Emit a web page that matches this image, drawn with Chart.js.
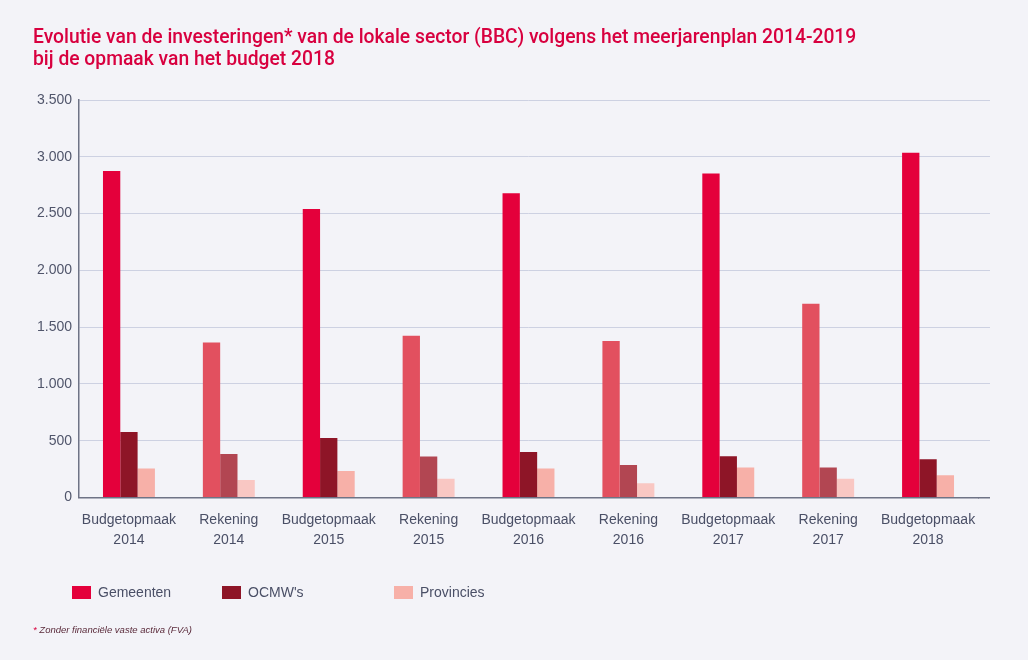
<!DOCTYPE html>
<html>
<head>
<meta charset="utf-8">
<script src="https://cdn.jsdelivr.net/npm/chart.js@4/dist/chart.umd.min.js"></script>
<style>
  html, body { margin:0; padding:0; background:#f3f3f8; }
  #wrap { position:relative; width:1028px; height:660px; overflow:hidden; }
  #c { position:absolute; left:0; top:0; }
  .leg { position:absolute; top:584px; font-family:"Liberation Sans", Arial, sans-serif; font-size:14px; color:#4a4f66; height:16px; line-height:16px; }
  .leg span.box { position:absolute; left:0; top:2px; width:19px; height:13px; }
  .leg span.txt { position:absolute; left:26px; top:0; white-space:nowrap; }
  #foot { position:absolute; left:33px; top:624px; font-family:"Liberation Sans", Arial, sans-serif; font-size:9.5px; font-style:italic; color:#5a2a3a; white-space:nowrap; }
  #foot b { color:#d8003f; font-weight:normal; }
</style>
</head>
<body>
<div id="wrap">
  <canvas id="c" width="1028" height="660"></canvas>
  <div class="leg" style="left:72px"><span class="box" style="background:#e4003b"></span><span class="txt">Gemeenten</span></div>
  <div class="leg" style="left:222px"><span class="box" style="background:#8e1527"></span><span class="txt">OCMW's</span></div>
  <div class="leg" style="left:394px"><span class="box" style="background:#f7b0a8"></span><span class="txt">Provincies</span></div>
  <div id="foot"><b>*</b> Zonder financiële vaste activa (FVA)</div>
</div>
<script>
const categories = [
  ["Budgetopmaak","2014"], ["Rekening","2014"],
  ["Budgetopmaak","2015"], ["Rekening","2015"],
  ["Budgetopmaak","2016"], ["Rekening","2016"],
  ["Budgetopmaak","2017"], ["Rekening","2017"],
  ["Budgetopmaak","2018"]
];
const categoryKind = ["B","R","B","R","B","R","B","R","B"];
const gemeenten  = [2875, 1365, 2540, 1425, 2680, 1378, 2852, 1705, 3035];
const ocmw       = [577, 383, 524, 362, 401, 287, 363, 264, 336];
const provincies = [255, 153, 234, 166, 255, 126, 264, 165, 195];
const yTicks = [0, 500, 1000, 1500, 2000, 2500, 3000, 3500];
const titleLines = [
  "Evolutie van de investeringen* van de lokale sector (BBC) volgens het meerjarenplan 2014-2019",
  "bij de opmaak van het budget 2018"
];

const colB = { g:"#e4003b", o:"#8e1527", p:"#f7b0a8" };
const colR = { g:"#e2505f", o:"#b24652", p:"#f9c7c3" };
const colorsFor = k => categoryKind.map(x => x === "B" ? colB[k] : colR[k]);

const fmt = v => v.toLocaleString("nl-BE");

// extends the horizontal grid lines and the x-axis line a little beyond the plot area
const extendGrid = {
  id:"extendGrid",
  beforeDatasetsDraw(chart) {
    const ctx = chart.ctx, ys = chart.scales.y, a = chart.chartArea;
    const ext = 12;
    const align = (p, w) => Math.round(p - w / 2) + w / 2;
    ctx.save();
    ys.ticks.forEach(t => {
      const base = t.value === 0;
      const w = base ? 1.5 : 1;
      const y = align(ys.getPixelForValue(t.value), w);
      ctx.beginPath();
      ctx.strokeStyle = base ? "#6e7386" : "#cdd1e2";
      ctx.lineWidth = w;
      ctx.moveTo(a.right, y); ctx.lineTo(a.right + ext, y);
      ctx.stroke();
    });
    ctx.restore();
  }
};

new Chart(document.getElementById("c"), {
  type: "bar",
  data: {
    labels: categories,
    datasets: [
      { label:"Gemeenten", data:gemeenten, backgroundColor:colorsFor("g") },
      { label:"OCMW's", data:ocmw, backgroundColor:colorsFor("o") },
      { label:"Provincies", data:provincies, backgroundColor:colorsFor("p") }
    ]
  },
  plugins:[extendGrid],
  options: {
    responsive:false,
    animation:false,
    devicePixelRatio:1,
    layout:{ padding:{ left:33, right:50, top:0, bottom:100 } },
    datasets:{ bar:{ categoryPercentage:0.52, barPercentage:1.0, borderWidth:0 } },
    plugins:{
      legend:{ display:false },
      tooltip:{ enabled:false },
      title:{
        display:true,
        text:titleLines,
        align:"start",
        color:"#d8003f",
        font:{ family:"Roboto", size:19.3, weight:"500", lineHeight:1.14 },
        padding:{ top:27, bottom:29 }
      }
    },
    scales:{
      x:{
        grid:{ display:false, drawTicks:false },
        border:{ display:true, color:"#6e7386", width:1.5 },
        ticks:{ color:"#4a4f66", padding:13, maxRotation:0, autoSkip:false,
                font:{ family:"Liberation Sans", size:14, lineHeight:1.43 } },
        afterFit: s => { s.height = 62.5; }
      },
      y:{
        min:0, max:3500,
        afterBuildTicks: s => { s.ticks = yTicks.map(v => ({ value:v })); },
        grid:{ color:"#cdd1e2", lineWidth:1, drawTicks:false },
        border:{ display:true, color:"#6e7386", width:1.5 },
        ticks:{ color:"#50556b", padding:7, callback: v => fmt(v),
                font:{ family:"Liberation Sans", size:14 } },
        afterFit: s => { s.width = 46; }
      }
    }
  }
});
</script>
</body>
</html>
